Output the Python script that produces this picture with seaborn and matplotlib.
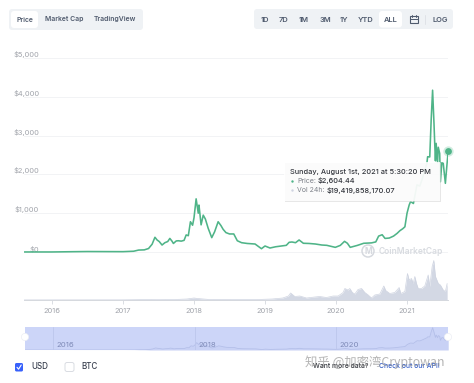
import matplotlib
matplotlib.use("Agg")
import matplotlib.pyplot as plt
import seaborn as sns
import pandas as pd
from matplotlib.patches import FancyBboxPatch, Rectangle, Circle

# price in USD
price_years = [2015.61, 2015.8, 2016.0, 2016.3, 2016.5, 2016.8, 2017.0, 2017.15, 2017.22, 2017.3, 2017.36,
               2017.41, 2017.45, 2017.48, 2017.51, 2017.55, 2017.59, 2017.63, 2017.66, 2017.69, 2017.71, 2017.75,
               2017.78, 2017.82, 2017.86, 2017.89, 2017.92, 2017.95, 2017.98, 2018.0, 2018.03, 2018.06, 2018.07,
               2018.10, 2018.13, 2018.16, 2018.2, 2018.25, 2018.29, 2018.34, 2018.38, 2018.41, 2018.45, 2018.5,
               2018.56, 2018.61, 2018.67, 2018.75, 2018.86, 2018.95, 2019.0, 2019.07, 2019.15, 2019.3, 2019.34,
               2019.38, 2019.43, 2019.48, 2019.54, 2019.62, 2019.71, 2019.8, 2019.87, 2019.99, 2020.06, 2020.12,
               2020.16, 2020.2, 2020.3, 2020.39, 2020.5, 2020.56, 2020.6, 2020.65, 2020.69, 2020.75, 2020.81,
               2020.86, 2020.9, 2020.94, 2020.97, 2021.0, 2021.03, 2021.05, 2021.09, 2021.14, 2021.18, 2021.21,
               2021.25, 2021.28, 2021.29, 2021.32, 2021.34, 2021.36, 2021.38, 2021.39, 2021.40, 2021.41, 2021.43,
               2021.44, 2021.46, 2021.47, 2021.49, 2021.51, 2021.54, 2021.56, 2021.58]
price_usd = [1, 1, 1, 8, 12, 10, 9, 20, 50, 55, 90,
             200, 380, 310, 270, 180, 240, 270, 350, 280, 220, 285,
             290, 280, 300, 440, 420, 780, 690, 880, 1370, 1000, 1210,
             700, 950, 850, 610, 370, 520, 780, 680, 585, 500, 465,
             465, 290, 240, 220, 206, 85, 155, 103, 135, 172, 250,
             258, 240, 310, 225, 220, 206, 180, 172, 120, 170, 275,
             225, 120, 170, 225, 235, 260, 410, 445, 350, 360, 410,
             480, 550, 600, 650, 1000, 1210, 1300, 1250, 1730, 1700, 1860,
             2100, 2290, 2455, 2450, 3400, 4170, 3300, 2800, 2350, 2800, 2300,
             2700, 2540, 1810, 2300, 2285, 1770, 2200, 2604]

# 24h volume in USD billions
volume_years = [2015.61, 2017.0, 2017.3, 2017.5, 2017.7, 2017.9, 2018.0, 2018.05, 2018.2, 2018.5, 2018.9,
                2019.1, 2019.25, 2019.33, 2019.36, 2019.42, 2019.49, 2019.584, 2019.7, 2019.77, 2019.866,
                2019.96, 2020.03, 2020.10, 2020.124, 2020.17, 2020.194, 2020.23, 2020.265, 2020.31, 2020.36,
                2020.406, 2020.453, 2020.50, 2020.546, 2020.617, 2020.673, 2020.70, 2020.757, 2020.828, 2020.889,
                2020.912, 2020.969, 2021.006, 2021.03, 2021.063, 2021.086, 2021.11, 2021.133, 2021.157, 2021.204,
                2021.25, 2021.298, 2021.32, 2021.354, 2021.377, 2021.40, 2021.44, 2021.47, 2021.51, 2021.54, 2021.565]
volume_bn = [0.2, 0.3, 0.8, 0.6, 0.8, 2, 4, 3, 1.2, 1, 1,
             2, 4, 8, 14, 7, 8, 4, 6, 7, 5,
             8, 8, 15, 23, 20, 23, 15, 12, 21, 23,
             15, 10, 4, 10, 12, 28, 19, 13, 15, 25,
             13, 17, 53, 40, 43, 33, 47, 33, 23, 23,
             28, 50, 27, 67, 79, 47, 33, 30, 20, 17, 33]

y_ticks = [0, 1000, 2000, 3000, 4000, 5000]
y_labels = ["$0", "$1,000", "$2,000", "$3,000", "$4,000", "$5,000"]
x_ticks = [2016, 2017, 2018, 2019, 2020, 2021]
nav_ticks = [2016, 2018, 2020]

left_tabs = ["Price", "Market Cap", "TradingView"]
left_tab_x = [25, 64, 115]
range_tabs = ["1D", "7D", "1M", "3M", "1Y", "YTD", "ALL", "LOG"]
range_tab_x = [265, 284, 304, 325, 344, 366, 391, 440]

GREEN = "#4fb488"
GREY = "#a1a4ab"
DARK = "#4f5a6d"
W, H = 474, 383
X0, X1 = 2015.606, 2021.577

sns.set_theme(style="white")
plt.rcParams["font.family"] = ["Inter", "DejaVu Sans"]

df_price = pd.DataFrame({"year": price_years, "price": price_usd})
df_vol = pd.DataFrame({"year": volume_years, "vol": volume_bn})

fig = plt.figure(figsize=(4.74, 3.83), dpi=100, facecolor="white")


def box(x0, y0, x1, y1):
    return [x0 / W, 1 - y1 / H, (x1 - x0) / W, (y1 - y0) / H]


# volume sits under the price line
ax_vol = fig.add_axes(box(24, 260, 448, 300))
ax_vol.fill_between(volume_years, volume_bn, color="#d3d8e4", lw=0)
sns.lineplot(data=df_vol, x="year", y="vol", color="#cfd4e1", lw=0.5, estimator=None, ax=ax_vol)
ax_vol.set_xlim(X0, X1)
ax_vol.set_ylim(0, 80)
ax_vol.set_xticks(x_ticks)
ax_vol.set_xticklabels([str(t) for t in x_ticks])
ax_vol.set_yticks([])
ax_vol.set_xlabel("")
ax_vol.set_ylabel("")
ax_vol.tick_params(axis="x", length=3, width=0.6, color="#d5d8de", labelsize=5.4, labelcolor=GREY, pad=2.5, bottom=True)
for name, sp in ax_vol.spines.items():
    sp.set_visible(name == "bottom")
    sp.set_color("#d5d8de")
    sp.set_linewidth(0.7)
ax_vol.patch.set_alpha(0)

ax = fig.add_axes(box(24, 58, 448, 300))
ax.patch.set_alpha(0)
sns.lineplot(data=df_price, x="year", y="price", color=GREEN, lw=1.15, estimator=None, ax=ax, zorder=3)
ax.set_xlim(X0, X1)
ax.set_ylim(-1237, 5000)
ax.set_yticks(y_ticks)
ax.set_yticklabels(y_labels, va="bottom")
ax.set_xticks([])
ax.set_xlabel("")
ax.set_ylabel("")
ax.grid(axis="y", color="#f2f3f5", lw=0.7)
ax.tick_params(axis="y", length=0, pad=-11, labelsize=5.4, labelcolor=GREY)
sns.despine(ax=ax, left=True, bottom=True)
ax.axvline(X1, color="#a8abb2", lw=0.7, ls=(0, (1.5, 2.5)), zorder=1)
ax.scatter([price_years[-1]], [price_usd[-1]], s=55, color=GREEN, alpha=0.25, lw=0, zorder=4, clip_on=False)
ax.scatter([price_years[-1]], [price_usd[-1]], s=24, color=GREEN, lw=0, zorder=5, clip_on=False)

# range navigator
ax_nav = fig.add_axes(box(25, 327, 448, 350))
ax_nav.set_facecolor("#ccd5f8")
ax_nav.fill_between(price_years, price_usd, color="#c8d1f5", lw=0)
sns.lineplot(data=df_price, x="year", y="price", color="#b4bfe9", lw=0.6, estimator=None, ax=ax_nav)
ax_nav.set_xlim(X0, X1)
ax_nav.set_ylim(0, 4300)
ax_nav.set_xticks([])
ax_nav.set_yticks([])
ax_nav.set_xlabel("")
ax_nav.set_ylabel("")
for t in nav_ticks:
    ax_nav.axvline(t, color="#bcc6ec", lw=0.6)
    ax_nav.text(t + 0.05, 0.2, str(t), transform=ax_nav.get_xaxis_transform(), fontsize=5.6, color="#7f8bb8", va="center")
sns.despine(ax=ax_nav, left=True, bottom=True, right=True, top=True)

# everything that is page furniture, in pixel coordinates
ui = fig.add_axes([0, 0, 1, 1])
ui.set_xlim(0, W)
ui.set_ylim(H, 0)
ui.axis("off")
ui.patch.set_alpha(0)


def pill(x0, y0, x1, y1, color, r=3, **kw):
    p = FancyBboxPatch((x0 + r, y0 + r), x1 - x0 - 2 * r, y1 - y0 - 2 * r,
                       boxstyle=f"round,pad={r},rounding_size={r}", fc=color, lw=kw.pop("lw", 0), **kw)
    ui.add_patch(p)


pill(9, 9, 143, 30, "#eff2f5")
pill(11, 11, 38, 28, "white")
for label, x in zip(left_tabs, left_tab_x):
    ui.text(x, 19.5, label, ha="center", va="center", fontsize=4.9, fontweight="semibold", color=DARK)

pill(254, 9, 453, 29, "#eff2f5")
pill(379, 11, 402, 27.5, "white")
for label, x in zip(range_tabs, range_tab_x):
    ui.text(x, 19.5, label, ha="center", va="center", fontsize=5.4, fontweight="semibold", color=DARK)
# calendar icon and separator
ui.add_patch(Rectangle((410, 16), 8, 7, fc="none", ec=DARK, lw=0.8))
ui.plot([410, 418], [18.5, 18.5], color=DARK, lw=0.7)
ui.plot([412, 412], [15, 16.5], color=DARK, lw=0.7)
ui.plot([416, 416], [15, 16.5], color=DARK, lw=0.7)
ui.plot([425, 425], [15, 24], color="#dfe2e7", lw=0.7)

# watermark
ui.add_patch(Circle((368, 251), 6, fc="none", ec="#d6d9df", lw=1.1))
ui.text(368, 251, "M", ha="center", va="center", fontsize=6, color="#d6d9df", fontweight="bold")
ui.text(379, 251, "CoinMarketCap", ha="left", va="center", fontsize=6.1, color="#d8dbe0", fontweight="semibold")

# tooltip
ui.add_patch(Rectangle((285, 163), 156, 39, fc="#d8d8d8", alpha=0.6, lw=0))
ui.add_patch(Rectangle((284, 162), 156, 39, fc="white", alpha=0.86, lw=0))
ui.text(290.5, 172, "Sunday, August 1st, 2021 at 5:30:20 PM", fontsize=5.3, color="#33363d", va="center", fontweight="medium")
ui.scatter([292], [181], s=3, color=GREEN, lw=0)
ui.text(297, 181, "Price:", fontsize=5.0, color="#7d8189", va="center")
ui.text(317.5, 181, "$2,604.44", fontsize=5.3, color="#33363d", va="center", fontweight="medium")
ui.scatter([292], [190], s=3, color="#cfd4e1", lw=0)
ui.text(297, 190, "Vol 24h:", fontsize=5.0, color="#7d8189", va="center")
ui.text(327, 190, "$19,419,858,170.07", fontsize=5.3, color="#33363d", va="center", fontweight="medium")

# navigator handles
for x in [25, 448]:
    ui.add_patch(Circle((x, 337), 3.6, fc="white", ec="#eceef4", lw=0.5))

# currency checkboxes
pill(15, 363, 23, 371.5, "#3861fb", r=1.5)
ui.plot([17, 18.6, 21.2], [367.3, 369.2, 365], color="white", lw=0.8)
ui.text(31, 366.5, "USD", fontsize=5.8, color="#3a4150", va="center", fontweight="medium")
pill(65, 362.5, 74, 371.5, "white", r=2, ec="#d9dce2", lw=0.7)
ui.text(81, 366.5, "BTC", fontsize=5.8, color="#3a4150", va="center", fontweight="medium")

ui.text(313, 366.5, "Want more data?", fontsize=4.9, color="#33363d", va="center", fontweight="medium")
ui.text(379, 366.5, "Check out our API!", fontsize=4.9, color="#3861c8", va="center", fontweight="medium")
ui.text(305, 362.5, "知乎 @加密湾Cryptowan", fontsize=8.9, color="#8c8c8c", alpha=0.65, va="center",
        family=["Noto Sans CJK SC", "DejaVu Sans"])

fig.savefig("out.png", dpi=100)
